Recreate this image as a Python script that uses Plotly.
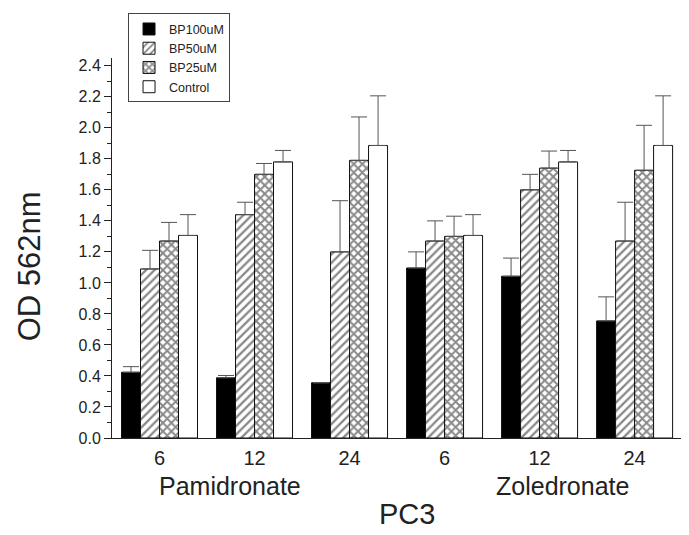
import plotly.graph_objects as go

# ---- data ----
group_positions = [0, 1, 2, 3, 4, 5]
time_labels = ["6", "12", "24", "6", "12", "24"]
drug_labels = ["Pamidronate", "Zoledronate"]

series_names = ["BP100uM", "BP50uM", "BP25uM", "Control"]
bp100 = [0.424, 0.388, 0.356, 1.096, 1.043, 0.755]
bp50 = [1.09, 1.44, 1.20, 1.27, 1.60, 1.27]
bp25 = [1.27, 1.70, 1.79, 1.30, 1.74, 1.726]
control = [1.306, 1.78, 1.886, 1.306, 1.78, 1.886]

bp100_err = [0.036, 0.015, 0.0, 0.104, 0.117, 0.155]
bp50_err = [0.12, 0.08, 0.33, 0.13, 0.10, 0.25]
bp25_err = [0.12, 0.07, 0.28, 0.13, 0.11, 0.29]
control_err = [0.134, 0.074, 0.32, 0.134, 0.074, 0.32]

values = [bp100, bp50, bp25, control]
errors = [bp100_err, bp50_err, bp25_err, control_err]

FONT = "Liberation Sans, Arial, sans-serif"
TXT = "#222222"

patterns = [
    dict(shape=""),
    dict(shape="/", fgcolor="#111111", bgcolor="white", size=6, solidity=0.38),
    dict(shape="x", fgcolor="#111111", bgcolor="white", size=6, solidity=0.55),
    dict(shape=""),
]
fills = ["#000000", "white", "white", "white"]

fig = go.Figure()
for name, v, e, pat, fc in zip(series_names, values, errors, patterns, fills):
    fig.add_trace(go.Bar(
        name=name, x=group_positions, y=v,
        marker=dict(color=fc, line=dict(color="#111111", width=1), pattern=pat),
        error_y=dict(type="data", array=e, symmetric=False, arrayminus=[0]*len(e),
                     color="#555555", thickness=1, width=8),
    ))

# The page body adds an 8px offset; the figure is sized/margined to compensate.
fig.update_layout(
    width=681, height=527,
    margin=dict(l=104, r=5, t=47, b=97),
    paper_bgcolor="white", plot_bgcolor="white",
    barmode="group", bargap=0.2, bargroupgap=0,
    font=dict(family=FONT, color=TXT),
    showlegend=True,
    legend=dict(
        x=0.028, y=1.1175, xanchor="left", yanchor="top",
        bordercolor="#444444", borderwidth=1, bgcolor="white",
        font=dict(size=12.5, family=FONT, color=TXT),
        tracegroupgap=0,
    ),
    xaxis=dict(
        range=[-0.5, 5.52], tickmode="array", tickvals=group_positions, ticktext=time_labels,
        ticks="outside", ticklen=2, tickcolor="rgba(0,0,0,0)",
        tickfont=dict(size=20, family=FONT, color=TXT), automargin=False,
        showline=True, linecolor="#222222", linewidth=1, showgrid=False, zeroline=False,
    ),
    xaxis2=dict(
        overlaying="x", range=[-0.5, 5.52], tickmode="array",
        tickvals=[p + 0.5 for p in group_positions[:-1]],
        ticks="outside", ticklen=4, tickcolor="#222222", showticklabels=False,
        showline=False, showgrid=False, zeroline=False, automargin=False,
    ),
    xaxis3=dict(
        overlaying="x", range=[-0.5, 5.52], tickmode="array",
        tickvals=[p + 0.5 for p in group_positions[:-1]],
        ticks="inside", ticklen=4, tickcolor="#222222", showticklabels=False,
        showline=False, showgrid=False, zeroline=False, automargin=False,
    ),
    yaxis=dict(
        range=[0, 2.45], tickmode="linear", tick0=0, dtick=0.2, tickformat=".1f",
        ticks="outside", ticklen=7, tickcolor="#222222",
        minor=dict(ticks="outside", ticklen=4, dtick=0.1, tick0=0, tickcolor="#222222"),
        tickfont=dict(size=16, family=FONT, color=TXT), automargin=False,
        showline=True, linecolor="#222222", linewidth=1, showgrid=False, zeroline=False,
    ),
    annotations=[
        dict(text="OD 562nm", x=-0.145, y=0.452, xref="paper", yref="paper", textangle=-90,
             xanchor="center", yanchor="middle", showarrow=False,
             font=dict(size=31, family=FONT, color=TXT)),
        dict(text=drug_labels[0], x=0.747, y=-0.125, xref="x", yref="paper",
             showarrow=False, font=dict(size=25, family=FONT, color=TXT), yanchor="middle"),
        dict(text=drug_labels[1], x=4.24, y=-0.125, xref="x", yref="paper",
             showarrow=False, font=dict(size=25, family=FONT, color=TXT), yanchor="middle"),
        dict(text="PC3", x=2.6, y=-0.201, xref="x", yref="paper",
             showarrow=False, font=dict(size=29, family=FONT, color=TXT), yanchor="middle"),
    ],
)

fig.write_html("out.html")
